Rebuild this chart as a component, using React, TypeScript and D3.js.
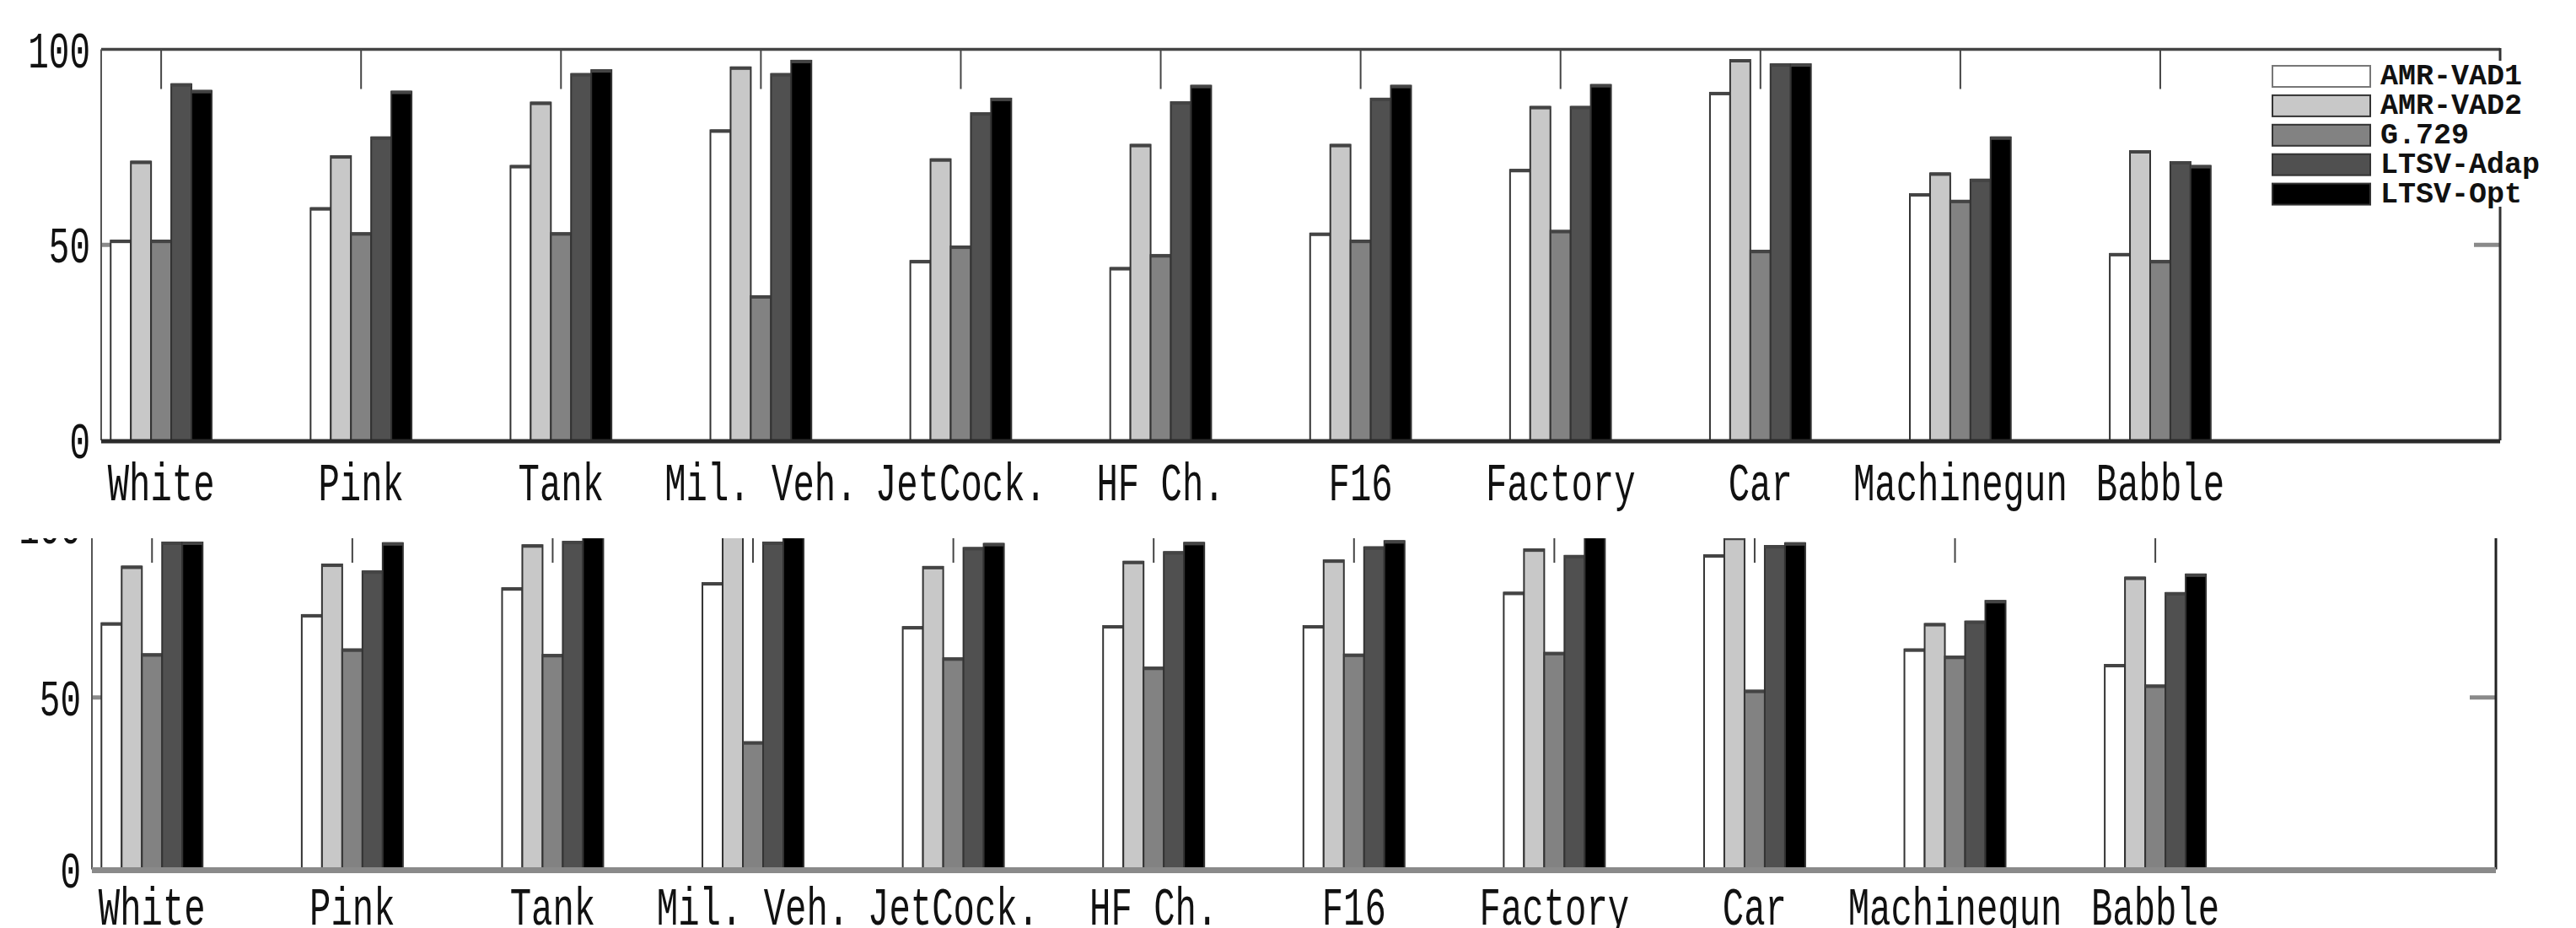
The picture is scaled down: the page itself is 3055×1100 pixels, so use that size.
import React from "react";
import * as d3 from "d3";

const categories = ["White", "Pink", "Tank", "Mil. Veh.", "JetCock.", "HF Ch.", "F16", "Factory", "Car", "Machinegun", "Babble"];
const seriesNames = ["AMR-VAD1", "AMR-VAD2", "G.729", "LTSV-Adap", "LTSV-Opt"];
const seriesColors = ["#ffffff", "#c8c8c8", "#828282", "#505050", "#000000"];
const yTicks = [0, 50, 100];

// Top panel values (%)
const topVAD1 = [51.1, 59.4, 70.2, 79.3, 45.9, 44.1, 52.9, 69.2, 88.9, 63.0, 47.7];
const topVAD2 = [71.3, 72.7, 86.4, 95.4, 71.9, 75.6, 75.6, 85.3, 97.3, 68.3, 74.0];
const topG729 = [51.1, 53.0, 53.0, 36.9, 49.6, 47.4, 51.1, 53.6, 48.5, 61.3, 45.9];
const topAdap = [91.1, 77.5, 93.7, 93.7, 83.7, 86.5, 87.4, 85.3, 96.2, 66.7, 71.2];
const topOpt = [89.4, 89.2, 94.7, 97.1, 87.4, 90.7, 90.7, 90.9, 96.2, 77.5, 70.2];

// Bottom panel values (%)
const botVAD1 = [71.6, 74.0, 81.8, 83.3, 70.5, 70.8, 70.8, 80.5, 91.4, 64.0, 59.5];
const botVAD2 = [88.1, 88.7, 94.3, 99.0, 88.0, 89.5, 89.9, 93.1, 96.5, 71.4, 84.9];
const botG729 = [62.6, 64.0, 62.4, 37.0, 61.4, 58.7, 62.5, 63.0, 52.0, 61.9, 53.5];
const botAdap = [95.1, 86.7, 95.3, 95.1, 93.5, 92.3, 93.7, 91.2, 94.1, 72.1, 80.4];
const botOpt = [95.1, 94.9, 97.0, 97.0, 94.7, 95.0, 95.5, 97.0, 94.9, 78.1, 85.8];

const topSeries = [topVAD1, topVAD2, topG729, topAdap, topOpt];
const botSeries = [botVAD1, botVAD2, botG729, botAdap, botOpt];

const FONT = "'Liberation Mono', 'DejaVu Sans Mono', monospace";

type PanelProps = {
  series: number[][];
  x: d3.ScaleLinear<number, number>;
  y: d3.ScaleLinear<number, number>;
  labelBaseline: number;
  yLabelRight: number;
  baselineColor: string;
  baselineWidth: number;
  rightColor: string;
  tickLen: number;
  clipId?: string;
  clipTop?: number;
  legend?: boolean;
};

function Panel(p: PanelProps) {
  const { series, x, y } = p;
  const [x0, x1] = x.range();
  const bw = 0.101;
  const y0 = y(0);
  const y100 = y(100);
  const content = (
    <g>
      {categories.map((c, i) => (
        <line key={"tt" + c} x1={x(i + 1)} x2={x(i + 1)} y1={y100} y2={y100 + p.tickLen} stroke="#444" strokeWidth={2} />
      ))}
      <line x1={x0} x2={x0 + 31} y1={y(50)} y2={y(50)} stroke="#8a8a8a" strokeWidth={5} />
      <line x1={x1 - 31} x2={x1} y1={y(50)} y2={y(50)} stroke="#8a8a8a" strokeWidth={5} />
      {series.map((vals, j) => (
        <g key={"s" + j}>
          {vals.map((v, i) => {
            const bx = x(i + 1 + (j - 2.5) * bw);
            const bx2 = x(i + 1 + (j - 1.5) * bw);
            const by = y(v);
            return (
              <g key={"b" + i}>
                <rect x={bx} y={by} width={bx2 - bx} height={y0 - by} fill={seriesColors[j]} stroke="#333" strokeWidth={2} />
                <line x1={bx} x2={bx2} y1={by + 1} y2={by + 1} stroke="#444" strokeWidth={4} />
              </g>
            );
          })}
        </g>
      ))}
      <line x1={x0} x2={x1} y1={y100} y2={y100} stroke="#444" strokeWidth={3.5} />
      <line x1={x0} x2={x0} y1={y100} y2={y0} stroke="#555" strokeWidth={2} />
      <line x1={x1} x2={x1} y1={y100 - 1.5} y2={y0} stroke={p.rightColor} strokeWidth={3} />
      <line x1={x0} x2={x1} y1={y0 + 1} y2={y0 + 1} stroke={p.baselineColor} strokeWidth={p.baselineWidth} />
      {yTicks.map((t) => (
        <text key={"yl" + t} transform={`translate(${p.yLabelRight},${y(t) + 21}) scale(1,1.5)`} textAnchor="end" fontFamily={FONT} fontSize={41} fill="#111">
          {t}
        </text>
      ))}
      {categories.map((c, i) => (
        <text key={"cl" + c} transform={`translate(${x(i + 1)},${p.labelBaseline}) scale(1,1.5)`} textAnchor="middle" fontFamily={FONT} fontSize={42.3} fill="#111">
          {c}
        </text>
      ))}
      {p.legend && (
        <g>
          <rect x={2680} y={72} width={360} height={173} fill="#fff" />
          {seriesNames.map((s, j) => (
            <g key={"lg" + s}>
              <rect x={2695} y={78 + j * 34.9} width={116} height={25} fill={seriesColors[j]} stroke={j === 0 ? "#777" : "#333"} strokeWidth={2} />
              <text x={2823} y={100 + j * 34.9} fontFamily={FONT} fontWeight="bold" fontSize={35} fill="#111">
                {s}
              </text>
            </g>
          ))}
        </g>
      )}
    </g>
  );
  if (p.clipId) {
    return (
      <g>
        <defs>
          <clipPath id={p.clipId}>
            <rect x={0} y={p.clipTop} width={3055} height={1100 - (p.clipTop || 0)} />
          </clipPath>
        </defs>
        <g clipPath={`url(#${p.clipId})`}>{content}</g>
      </g>
    );
  }
  return content;
}

export default function App() {
  const xTop = d3.scaleLinear().domain([0.7, 12.7]).range([120, 2965]);
  const yTop = d3.scaleLinear().domain([0, 100]).range([522, 58.5]);
  const xBot = d3.scaleLinear().domain([0.7, 12.7]).range([109, 2960]);
  const yBot = d3.scaleLinear().domain([0, 100]).range([1030.5, 623]);
  return (
    <div>
      <style>{`body{margin:0;background:#fff}`}</style>
      <svg width={3055} height={1100} style={{ display: "block", position: "absolute", left: 0, top: 0, background: "#fff" }}>
        <rect x={0} y={0} width={3055} height={1100} fill="#fff" />
        <Panel series={topSeries} x={xTop} y={yTop} labelBaseline={593} yLabelRight={107} baselineColor="#2b2b2b" baselineWidth={5} rightColor="#333" tickLen={47} legend />
        <Panel series={botSeries} x={xBot} y={yBot} labelBaseline={1096} yLabelRight={96} baselineColor="#8a8a8a" baselineWidth={7} rightColor="#222" tickLen={44} clipId="botclip" clipTop={638} />
      </svg>
    </div>
  );
}
